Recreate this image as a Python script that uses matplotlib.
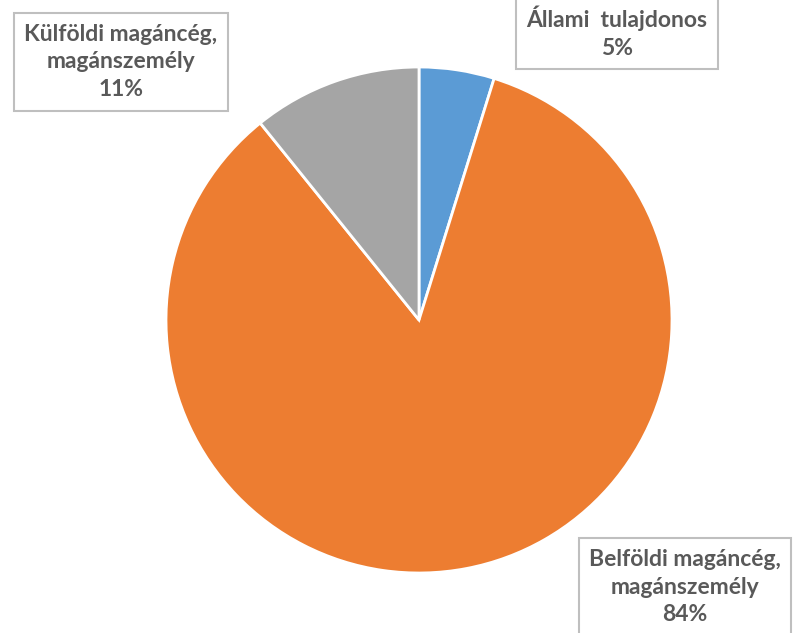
import matplotlib.pyplot as plt

categories = ['Állami  tulajdonos', 'Belföldi magáncég,\nmagánszemély', 'Külföldi magáncég,\nmagánszemély']
shares = [4.8, 84.4, 10.8]
colors = ['#5B9BD5', '#ED7D31', '#A5A5A5']
# label box centres in figure pixels (x, y from top)
label_pos = [(617, 32), (685, 587), (121, 62)]

W, H = 798, 633
fig = plt.figure(figsize=(W / 100, H / 100), dpi=100)

cx, cy, r = 419, 320, 253
ax = fig.add_axes([(cx - r) / W, (H - cy - r) / H, 2 * r / W, 2 * r / H])
ax.pie(shares, colors=colors, startangle=90, counterclock=False, radius=1,
       wedgeprops=dict(edgecolor='white', linewidth=2))
ax.set_xlim(-1, 1)
ax.set_ylim(-1, 1)
ax.set_aspect('equal')
ax.axis('off')

for cat, v, (x, y) in zip(categories, shares, label_pos):
    fig.text(x / W, 1 - y / H, f'{cat}\n{v:.0f}%', ha='center', va='center',
             multialignment='center', fontsize=16.5, fontweight='bold',
             family='Lato', color='#595959', linespacing=1.4,
             bbox=dict(boxstyle='square,pad=0.45', facecolor='white',
                       edgecolor='#BFBFBF', linewidth=1.5))

fig.savefig('out.png', dpi=100)
